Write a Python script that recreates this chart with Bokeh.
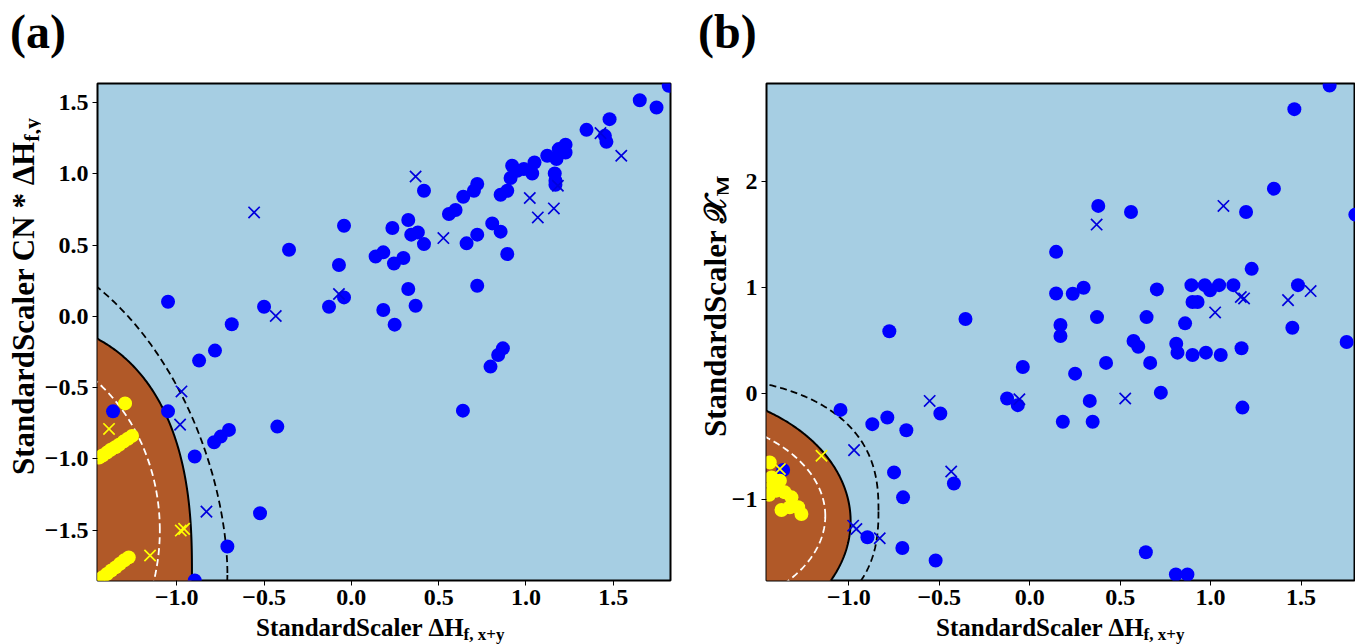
import numpy as np
from bokeh.plotting import figure
from bokeh.models import Range1d, FixedTicker, Div
from bokeh.layouts import row, column
from bokeh.embed import file_html
from bokeh.resources import INLINE

# ---------------- data: panel (a) ----------------
a_blue_dot_x = [-0.042, 0.235, -0.357, -0.071, 0.139, 0.183, 0.244, -0.042, -0.128, 0.183, 0.248,
                -1.050, -0.500, -0.685, 1.818, 1.652, 1.748, 1.479, 1.347, 1.452, 1.461, 1.227,
                1.188, 1.227, 1.122, 1.175, 1.049, 0.921, 0.988, 0.950, 1.036, 0.912, 1.165, 1.169,
                1.169, 0.721, 0.702, 0.641, 0.893, 0.855, 0.416, 0.559, 0.597, 0.326, 0.343, 0.381,
                0.416, 0.660, 0.721, 0.807, 0.855, 0.893, 0.298, 0.326, 0.721, 0.368, 0.868, 0.841,
                0.797, 0.639, -0.781, -0.872, -1.050, -1.365, -0.701, -0.748, -0.786, -0.897,
                -0.424, -0.523, -0.710, -0.897]
a_blue_dot_y = [0.636, 0.620, 0.467, 0.360, 0.420, 0.449, 0.371, 0.133, 0.068, 0.045, -0.058,
                0.103, 0.068, -0.055, 1.617, 1.516, 1.465, 1.383, 1.308, 1.266, 1.224, 1.203,
                1.173, 1.149, 1.126, 1.103, 1.079, 1.056, 1.033, 1.021, 1.002, 0.970, 1.002, 0.951,
                0.923, 0.928, 0.881, 0.839, 0.881, 0.853, 0.881, 0.718, 0.746, 0.676, 0.573, 0.589,
                0.507, 0.512, 0.573, 0.652, 0.594, 0.437, 0.409, 0.192, 0.215, 0.075, -0.224, -0.271,
                -0.352, -0.661, -0.240, -0.310, -0.666, -0.666, -0.796, -0.843, -0.883, -0.983,
                -0.773, -1.380, -1.614, -1.852]
a_blue_x_x = [-0.557, -0.071, -0.433, 1.427, 1.546, 1.183, 0.368, 1.022, 1.160, 1.068, 0.527,
              -0.973, -0.981, -0.830]
a_blue_x_y = [0.729, 0.157, 0.003, 1.285, 1.126, 0.916, 0.981, 0.830, 0.757, 0.694, 0.549,
              -0.526, -0.759, -1.369]
a_yellow_dot_x = [-1.296, -1.445, -1.425, -1.400, -1.378, -1.352, -1.330, -1.305, -1.280, -1.256,
                  -1.448, -1.425, -1.400, -1.375, -1.350, -1.325, -1.300, -1.275]
a_yellow_dot_y = [-0.610, -0.990, -0.975, -0.955, -0.935, -0.918, -0.900, -0.878, -0.858, -0.838,
                  -1.845, -1.830, -1.806, -1.782, -1.760, -1.735, -1.710, -1.690]
a_yellow_x_x = [-1.388, -0.977, -0.958, -1.153]
a_yellow_x_y = [-0.789, -1.502, -1.490, -1.677]

# ---------------- data: panel (b) ----------------
b_blue_dot_x = [-1.046, -0.870, -0.787, -0.682, -0.494, -0.750, -0.419, -0.700, -0.897, -0.704,
                -0.520, -1.363, 0.146, 0.146, 0.170, 0.170, -0.355, -0.776, -0.038, 1.658, 1.463,
                1.350, 0.379, 0.560, 1.196, 1.800, 1.227, 0.238, 0.298, 0.703, 0.894, 0.968, 0.997,
                1.047, 1.126, 0.900, 0.928, 1.483, 1.452, 1.752, 0.372, 0.646, 0.859, 0.574, 0.600,
                0.810, 0.817, 0.900, 0.974, 1.056, 1.171, 0.422, 0.666, 0.251, -0.125, -0.066,
                0.332, 0.725, 0.183, 0.348, 1.176, 0.642, 0.808, 0.872]
b_blue_dot_y = [-0.151, -0.285, -0.223, -0.342, -0.185, -0.740, -0.844, -0.975, -1.352, -1.452,
                -1.571, -0.718, 1.339, 0.947, 0.649, 0.546, 0.706, 0.590, 0.254, 2.907, 2.684,
                1.935, 1.772, 1.715, 1.715, 1.690, 1.179, 0.944, 1.000, 0.985, 1.025, 1.025, 0.976,
                1.025, 1.025, 0.866, 0.866, 1.025, 0.624, 0.489, 0.724, 0.724, 0.665, 0.499, 0.445,
                0.473, 0.389, 0.367, 0.389, 0.367, 0.430, 0.292, 0.292, 0.191, -0.044, -0.106,
                -0.066, 0.012, -0.263, -0.263, -0.129, -1.493, -1.703, -1.703]
b_blue_x_x = [-0.553, -0.971, -0.434, -0.976, -0.958, -0.829, 0.370, 1.071, 1.167, 1.185, 1.025,
              1.553, 1.428, -0.057, 0.528]
b_blue_x_y = [-0.066, -0.530, -0.731, -1.242, -1.273, -1.361, 1.596, 1.772, 0.913, 0.900, 0.768,
              0.969, 0.884, -0.050, -0.044]
b_yellow_dot_x = [-1.437, -1.427, -1.381, -1.400, -1.354, -1.317, -1.326, -1.280, -1.262, -1.372,
                  -1.420, -1.440]
b_yellow_dot_y = [-0.646, -0.787, -0.818, -0.912, -0.928, -0.975, -1.069, -1.069, -1.132, -1.094,
                  -0.860, -0.950]
b_yellow_x_x = [-1.151, -1.381]
b_yellow_x_y = [-0.583, -0.708]

# decision-function contours (centre x, centre y, radius x, radius y, exponent)
a_boundary = (-2.0, -1.8, 1.087, 1.777, 2.5)
a_margin_out = (-2.0, -1.8, 1.29, 2.289, 1.8)
a_margin_in = (-2.0, -1.5, 0.903, 1.303, 2.0)
b_boundary = (-2.0, -1.2, 1.01, 1.235, 2.0)
b_margin_out = (-2.0, -1.1, 1.164, 1.271, 2.5)
b_margin_in = (-2.0, -1.15, 0.87, 0.948, 2.0)

# axes
a_xr = (-1.454, 1.828)
a_yr = (-1.852, 1.633)
b_xr = (-1.455, 1.801)
b_yr = (-1.759, 2.926)
a_xticks = [-1.0, -0.5, 0.0, 0.5, 1.0, 1.5]
a_yticks = [-1.5, -1.0, -0.5, 0.0, 0.5, 1.0, 1.5]
b_xticks = [-1.0, -0.5, 0.0, 0.5, 1.0, 1.5]
b_yticks = [-1, 0, 1, 2]

a_title = "(a)"
b_title = "(b)"
a_xlabel = ("StandardScaler \u0394H", "f, x+y")
a_ylabel = ("StandardScaler CN * \u0394H", "f,y")
b_xlabel = ("StandardScaler \u0394H", "f, x+y")
b_ylabel = ("StandardScaler \U0001D4B3", "M")

FONT = "'Liberation Serif', 'Times New Roman', serif"
FONT_FALLBACK = "'Liberation Serif', 'DejaVu Serif', 'DejaVu Sans', 'Noto Sans', serif"
LIGHT = "#a6cee3"
BROWN = "#b15928"
BLUE = "#0000ff"
XBLUE = "#0000dd"
YELLOW = "#ffff00"

FIG_H = 539          # figure canvas height
TOP_H = 81           # title strip height
BOT_H = 644 - TOP_H - FIG_H


def superellipse(c, n=720):
    cx, cy, rx, ry, pw = c
    t = np.linspace(0, 2 * np.pi, n)
    co, si = np.cos(t), np.sin(t)
    x = cx + rx * np.sign(co) * np.abs(co) ** (2.0 / pw)
    y = cy + ry * np.sign(si) * np.abs(si) ** (2.0 / pw)
    return x, y


def fmt(v, dec):
    s = f"{abs(v):.{dec}f}"
    return ("\u2212" + s) if v < 0 else s


def make_panel(w, left, right, xr, yr, xt, yt, dec_y):
    p = figure(width=w, height=FIG_H, x_range=Range1d(*xr), y_range=Range1d(*yr),
               output_backend="svg", toolbar_location=None,
               min_border_left=left, min_border_right=right,
               min_border_top=2, min_border_bottom=40)
    p.background_fill_color = LIGHT
    p.border_fill_color = "white"
    p.grid.visible = False
    p.outline_line_color = "black"
    p.outline_line_width = 2
    p.xaxis.ticker = FixedTicker(ticks=xt)
    p.yaxis.ticker = FixedTicker(ticks=yt)
    p.xaxis.major_label_overrides = {v: fmt(v, 1) for v in xt}
    p.yaxis.major_label_overrides = {v: fmt(v, dec_y) for v in yt}
    for ax in (p.xaxis[0], p.yaxis[0]):
        ax.axis_line_color = None
        ax.minor_tick_line_color = None
        ax.major_tick_in = 0
        ax.major_tick_out = 5
        ax.major_tick_line_color = "black"
        ax.major_label_text_font = "Liberation Serif"
        ax.major_label_text_font_style = "bold"
        ax.major_label_text_font_size = "24px"
        ax.major_label_text_color = "black"
        ax.major_label_standoff = 4
    return p


def draw(p, boundary, m_out, m_in, bdx, bdy, bxx, bxy, ydx, ydy, yxx, yxy):
    bx, by = superellipse(boundary)
    p.patch(bx, by, fill_color=BROWN, line_color=None)
    p.line(bx, by, line_color="black", line_width=2)
    ox, oy = superellipse(m_out)
    p.line(ox, oy, line_color="black", line_width=1.8, line_dash="7 4")
    ix, iy = superellipse(m_in)
    p.line(ix, iy, line_color="white", line_width=1.8, line_dash="7 4")
    p.scatter(bdx, bdy, marker="circle", size=14, fill_color=BLUE, line_color=None)
    p.scatter(ydx, ydy, marker="circle", size=14, fill_color=YELLOW, line_color=None)
    p.scatter(bxx, bxy, marker="x", size=16, line_color=XBLUE, line_width=1.7)
    p.scatter(yxx, yxy, marker="x", size=16, line_color=YELLOW, line_width=1.7)


def title_div(text, w, pad_left):
    html = (f"<div style=\"padding-left:{pad_left}px;padding-top:8px;font-family:{FONT};"
            f"font-weight:bold;font-size:48px;line-height:48px;color:black;white-space:nowrap\">"
            f"{text}</div>")
    return Div(text=html, width=w, height=TOP_H, margin=(0, 0, 0, 0))


def xlabel_div(parts, w, pad_left):
    main, sub = parts
    html = (f"<div style=\"padding-left:{pad_left}px;padding-top:0px;font-family:{FONT};"
            f"font-weight:bold;font-size:25px;line-height:16px;color:black;white-space:nowrap\">"
            f"{main}<span style=\"font-size:17px;vertical-align:-4px;line-height:0\">{sub}</span></div>")
    return Div(text=html, width=w, height=BOT_H, margin=(0, 0, 0, 0))


def ylabel_div(parts, w, x_left, y_start, size, sub_size):
    main, sub = parts
    html = (f"<div style=\"position:relative;width:{w}px;height:{FIG_H}px;\">"
            f"<div style=\"position:absolute;left:{x_left}px;top:{y_start}px;transform:rotate(-90deg);"
            f"transform-origin:left top;white-space:nowrap;font-family:{FONT_FALLBACK};font-weight:bold;"
            f"font-size:{size}px;line-height:{size}px;color:black\">{main}"
            f"<span style=\"font-size:{sub_size}px;vertical-align:-5px;line-height:0\">{sub}</span>"
            f"</div></div>")
    return Div(text=html, width=w, height=FIG_H, margin=(0, 0, 0, 0))


# panel (a): column 680 wide, frame x 97..670, y 83..580
pa = make_panel(640, 57, 10, a_xr, a_yr, a_xticks, a_yticks, 1)
draw(pa, a_boundary, a_margin_out, a_margin_in, a_blue_dot_x, a_blue_dot_y, a_blue_x_x, a_blue_x_y,
     a_yellow_dot_x, a_yellow_dot_y, a_yellow_x_x, a_yellow_x_y)
col_a = column(title_div(a_title, 680, 10),
               row(ylabel_div(a_ylabel, 40, 8, 394, 31, 22), pa),
               xlabel_div(a_xlabel, 680, 256))

# panel (b): column 675 wide, frame x 765..1355, y 83..580
pb = make_panel(627, 37, 0, b_xr, b_yr, b_xticks, b_yticks, 0)
draw(pb, b_boundary, b_margin_out, b_margin_in, b_blue_dot_x, b_blue_dot_y, b_blue_x_x, b_blue_x_y,
     b_yellow_dot_x, b_yellow_dot_y, b_yellow_x_x, b_yellow_x_y)
col_b = column(title_div(b_title, 675, 18),
               row(ylabel_div(b_ylabel, 48, 20, 356, 31, 22), pb),
               xlabel_div(b_xlabel, 675, 256))

layout = row(col_a, col_b)
open("out.html", "w").write(file_html(layout, INLINE))
